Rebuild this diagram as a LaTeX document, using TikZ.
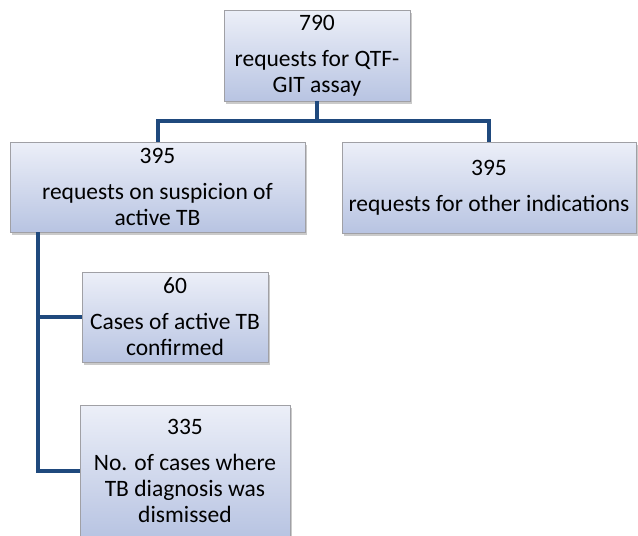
\documentclass[tikz,border=0pt]{standalone}
\usepackage{fontspec}
\setmainfont{Carlito}
\usetikzlibrary{shadows}
\definecolor{linkblue}{RGB}{31,73,125}
\definecolor{boxtop}{RGB}{236,239,248}
\definecolor{boxbot}{RGB}{184,196,226}
\definecolor{boxedge}{RGB}{160,160,165}
\tikzset{
  box/.style={draw=boxedge, line width=0.8pt, top color=boxtop, bottom color=boxbot,
    inner sep=0pt, align=center, font=\fontsize{23.5}{26}\selectfont,
    drop shadow={shadow xshift=2pt, shadow yshift=-2.5pt, opacity=0.35, fill=black!60}},
  link/.style={draw=linkblue, line width=4pt}
}
\begin{document}
\begin{tikzpicture}[x=1pt,y=-1pt]
\useasboundingbox (0,0) rectangle (638,536);
\clip (0,0) rectangle (638,536);
\node[box, minimum width=186pt, minimum height=91pt] (top) at (317,55.5) {790\\[10pt]requests for QTF-\\GIT assay};
\node[box, minimum width=295pt, minimum height=90pt] (l) at (157.5,187) {395\\[10pt]requests on suspicion of\\active TB};
\node[box, minimum width=294pt, minimum height=91pt] (r) at (489,187.5) {395\\[10pt]requests for other indications};
\node[box, minimum width=186pt, minimum height=90pt] (b60) at (175,317) {60\\[10pt]Cases of active TB\\confirmed};
\node[box, minimum width=210pt, minimum height=132pt] (b335) at (185,471) {335\\[10pt]No. of cases where\\TB diagnosis was\\dismissed};
\coordinate (bus) at (317,121);
\coordinate (trunk) at (38,232);
\draw[link] (top.south) -- (top.south |- bus);
\draw[link] (l.north) -- (l.north |- bus) -- (r.north |- bus) -- (r.north);
\draw[link] (trunk) |- (b60.west);
\draw[link] (trunk) |- (b335.west);
\end{tikzpicture}
\end{document}
